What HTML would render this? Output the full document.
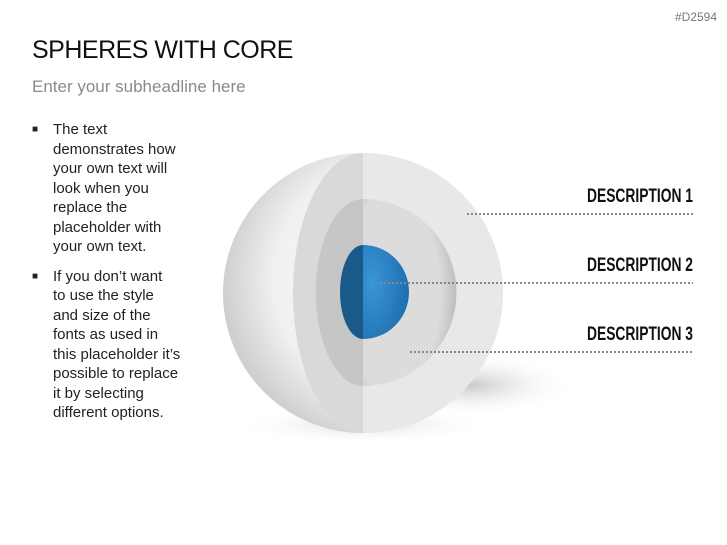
<!DOCTYPE html>
<html><head><style>
body{margin:0;width:727px;height:545px;background:#fff;position:relative;overflow:hidden;font-family:"Liberation Sans",sans-serif}
.t{position:absolute}
</style></head><body>
<div class="t" style="right:10px;top:10px;font-size:12px;color:#777">#D2594</div>
<div class="t" style="left:32px;top:36px;font-size:25px;color:#111;letter-spacing:-0.5px">SPHERES WITH CORE</div>
<div class="t" style="left:32px;top:77px;font-size:17px;color:#8a8a8a">Enter your subheadline here</div>
<div class="t" style="left:32px;top:120px;width:200px;font-size:15px;line-height:19.5px;color:#222;white-space:nowrap">
<div style="position:relative;padding-left:21px">
<span style="position:absolute;left:0;top:0;font-size:10px">■</span>The text<br>demonstrates how<br>your own text will<br>look when you<br>replace the<br>placeholder with<br>your own text.</div>
<div style="position:relative;padding-left:21px;margin-top:10px">
<span style="position:absolute;left:0;top:0;font-size:10px">■</span>If you don’t want<br>to use the style<br>and size of the<br>fonts as used in<br>this placeholder it’s<br>possible to replace<br>it by selecting<br>different options.</div>
</div>
<svg class="t" style="left:0;top:0" width="727" height="545">
<defs>
<radialGradient id="sp" cx="0.6" cy="0.45" r="0.6">
<stop offset="0" stop-color="#ffffff"/><stop offset="0.7" stop-color="#f0f0f0"/><stop offset="1" stop-color="#cfcfcf"/></radialGradient>
<radialGradient id="sh" cx="0.5" cy="0.5" r="0.5">
<stop offset="0" stop-color="#c8c8c8"/><stop offset="1" stop-color="#fff" stop-opacity="0"/></radialGradient>
<radialGradient id="mid" cx="0.3" cy="0.5" r="0.7">
<stop offset="0.75" stop-color="#dcdcdc"/><stop offset="1" stop-color="#bdbdbd"/></radialGradient>
<radialGradient id="core" cx="0.2" cy="0.4" r="0.8">
<stop offset="0" stop-color="#3a95d8"/><stop offset="1" stop-color="#1e6fae"/></radialGradient>
</defs>
<ellipse cx="470" cy="385" rx="105" ry="32" fill="url(#sh)"/>
<ellipse cx="363" cy="425" rx="130" ry="20" fill="url(#sh)" opacity="0.6"/>
<circle cx="363" cy="293" r="140" fill="url(#sp)"/>
<path d="M363 153 A70 140 0 0 0 363 433 Z" fill="#d9d9d9"/>
<path d="M363 153 A140 140 0 0 1 363 433 Z" fill="#e8e8e8"/>
<path d="M363 199 A47 93 0 0 0 363 386 Z" fill="#c6c6c6"/>
<path d="M363 199 A93 93 0 0 1 363 386 Z" fill="url(#mid)"/>
<path d="M363 245 A23 47 0 0 0 363 339 Z" fill="#1a5a8a"/>
<path d="M363 245 A46 47 0 0 1 363 339 Z" fill="url(#core)"/>
<g stroke="#888" stroke-width="2" stroke-dasharray="2 2">
<line x1="467" y1="214" x2="693" y2="214"/>
<line x1="380" y1="283" x2="693" y2="283"/>
<line x1="410" y1="352" x2="693" y2="352"/>
</g>
<g font-family="Liberation Sans, sans-serif" font-weight="bold" font-size="19" fill="#111" text-anchor="end">
<text x="693" y="202" textLength="106" lengthAdjust="spacingAndGlyphs">DESCRIPTION 1</text>
<text x="693" y="271" textLength="106" lengthAdjust="spacingAndGlyphs">DESCRIPTION 2</text>
<text x="693" y="340" textLength="106" lengthAdjust="spacingAndGlyphs">DESCRIPTION 3</text>
</g>
</svg>
</body></html>
